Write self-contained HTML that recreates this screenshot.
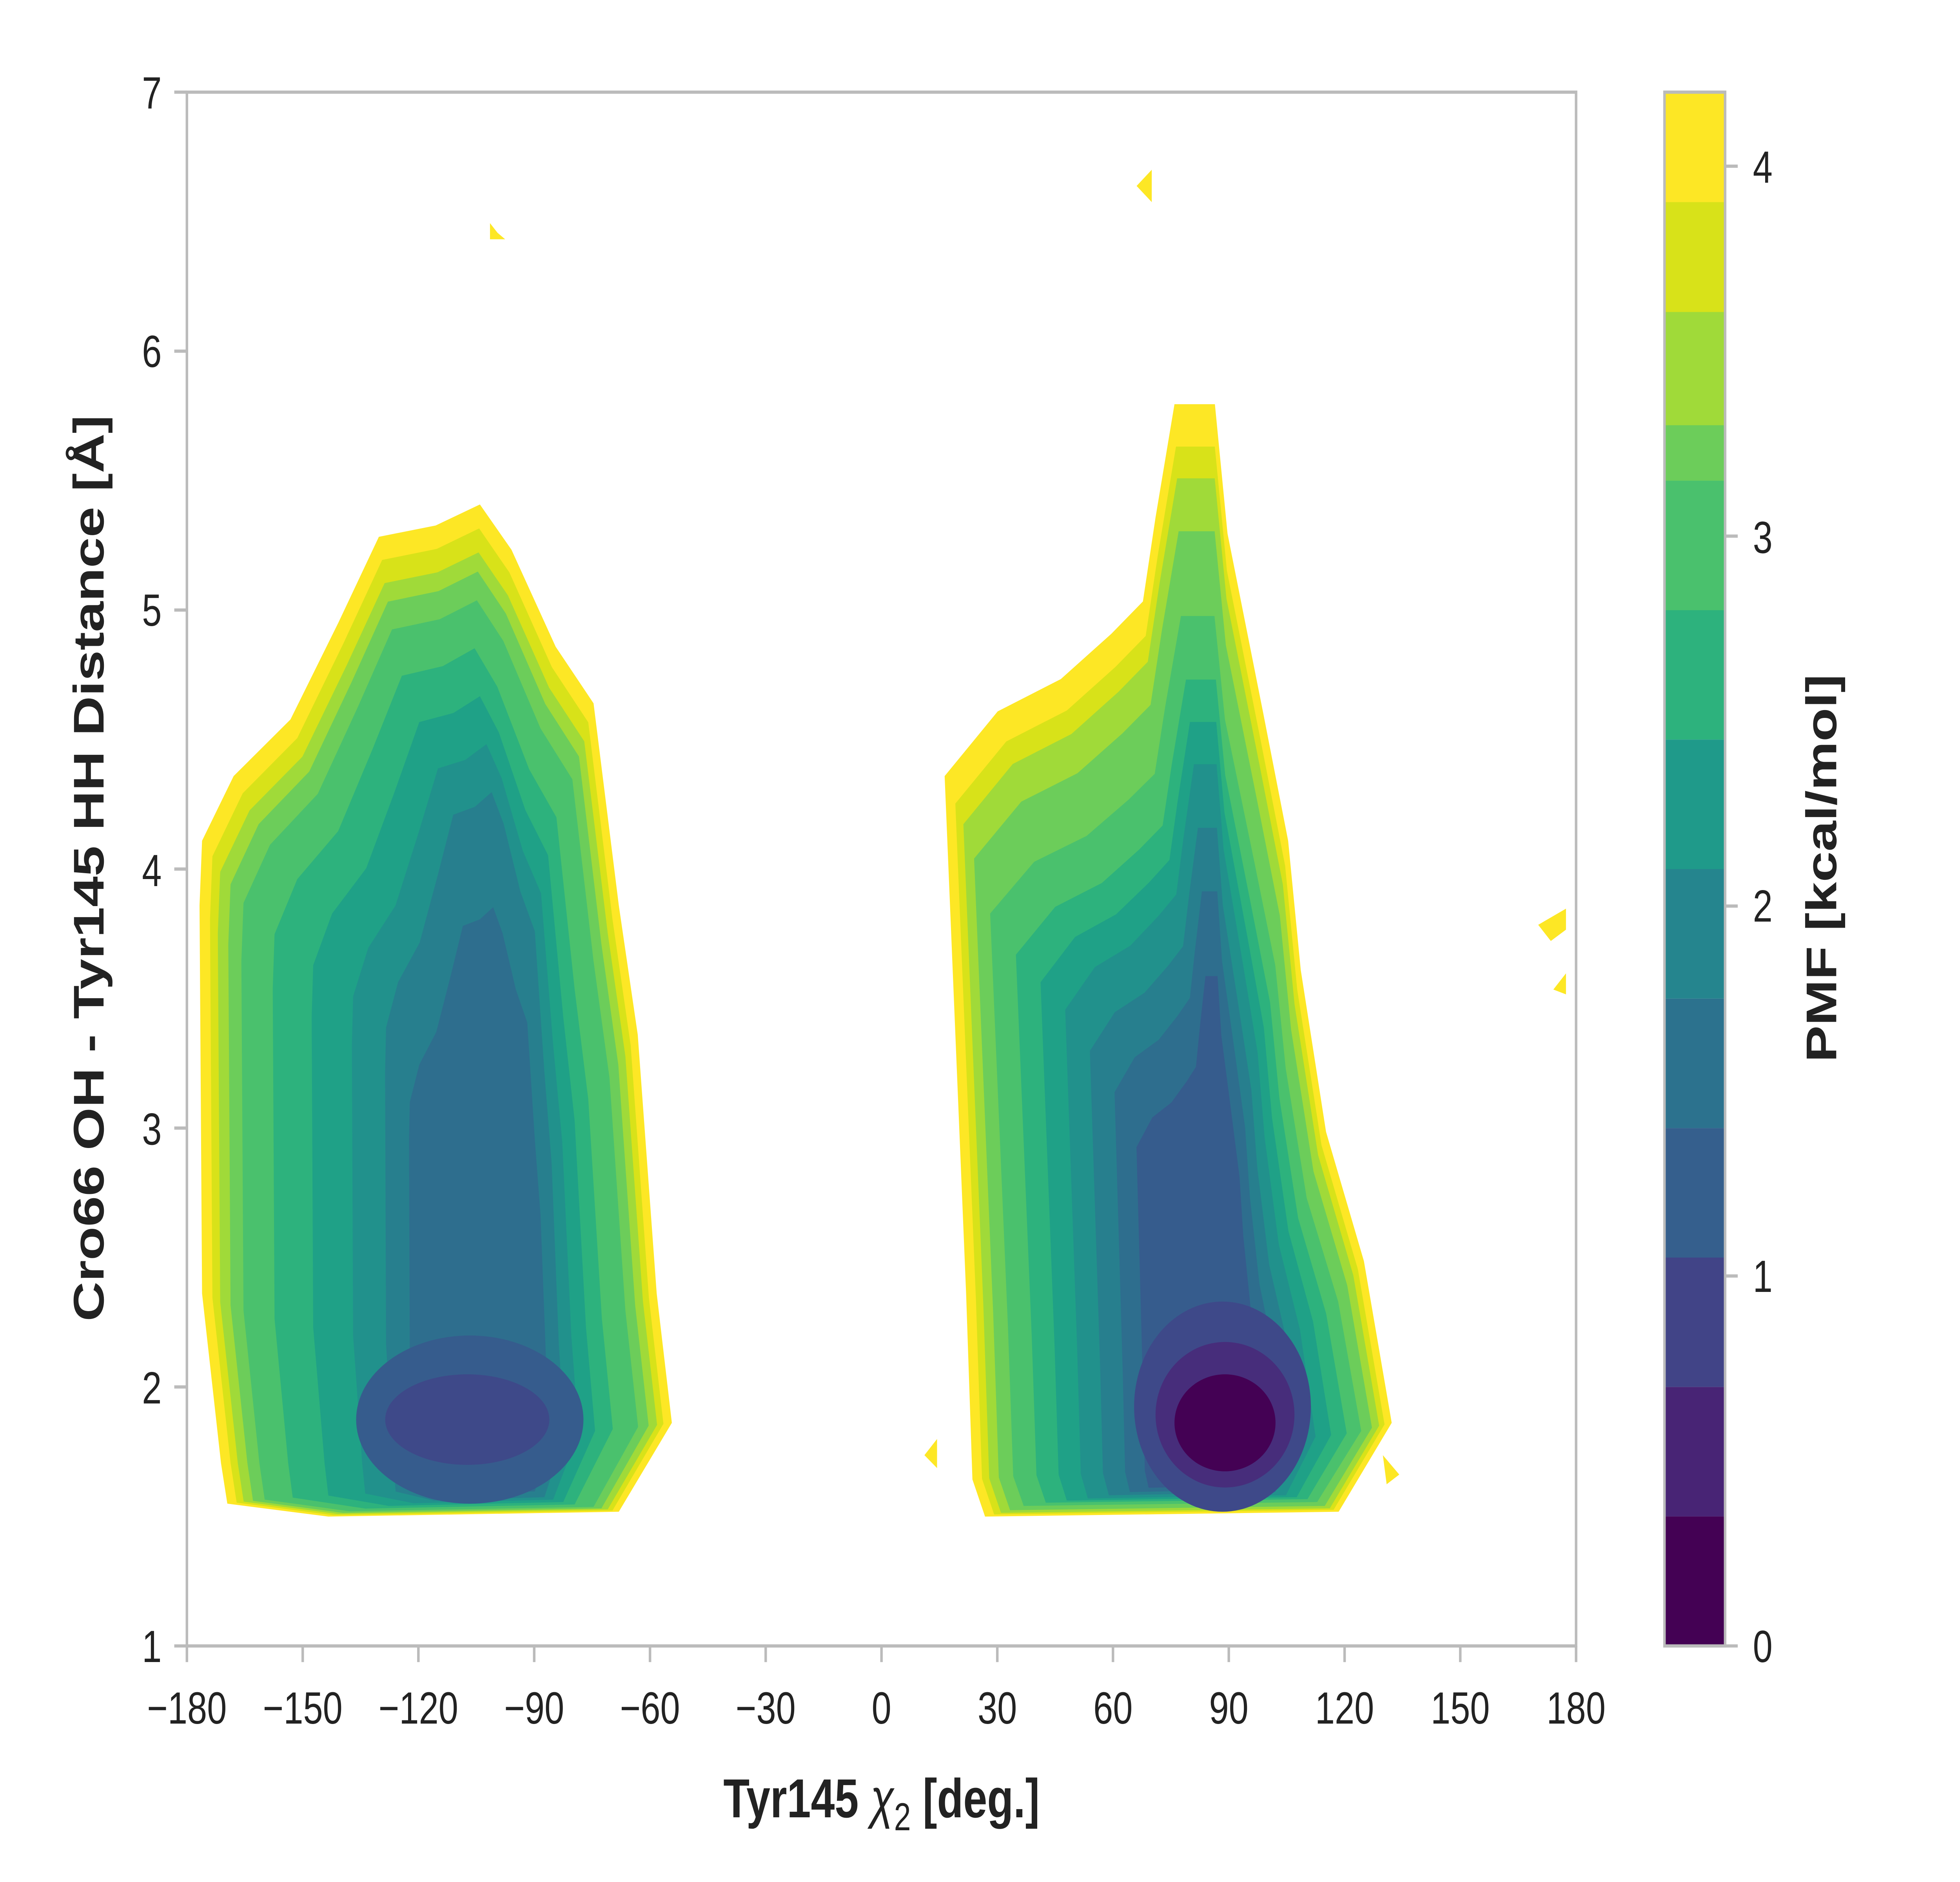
<!DOCTYPE html>
<html><head><meta charset="utf-8"><style>html,body{margin:0;padding:0;background:#fff;width:100%;height:100%;overflow:hidden}svg{display:block;position:absolute;left:0;top:0;width:100vw;height:100vh}</style></head><body>
<svg viewBox="0 0 1552 1164" preserveAspectRatio="none" xmlns="http://www.w3.org/2000/svg" font-family="Liberation Sans, sans-serif">
<rect width="1552" height="1164" fill="#fff"/>
<defs>
<clipPath id="pc"><rect x="148" y="57" width="1100" height="961"/></clipPath>
<path id="L" d="M175,905 L160,800 L158,560 L160,520 L185,480 L230,445 L268,385 L300,332 L345,325 L380,312 L405,340 L440,400 L470,435 L490,560 L505,640 L520,800 L532,880 L490,935 L260,938 L180,930 Z"/>
<path id="R" d="M770,915 L765,800 L748,480 L790,440 L840,420 L880,392 L905,372 L915,320 L930,250 L962,250 L972,330 L1000,440 L1020,520 L1030,600 L1050,700 L1080,780 L1102,880 L1060,935 L780,938 Z"/>
</defs>
<g clip-path="url(#pc)">
<g>
<use href="#L" fill="#fde725"/>
<use href="#L" fill="#d8e219" transform="translate(365,905) scale(0.96,0.975) translate(-365,-905)"/>
<use href="#L" fill="#a0da39" transform="translate(365,905) scale(0.93,0.95) translate(-365,-905)"/>
<use href="#L" fill="#6ccd5a" transform="translate(365,905) scale(0.89,0.93) translate(-365,-905)"/>
<use href="#L" fill="#4ac16d" transform="translate(365,905) scale(0.84,0.9) translate(-365,-905)"/>
<use href="#L" fill="#2db27d" transform="translate(365,905) scale(0.72,0.85) translate(-365,-905)"/>
<use href="#L" fill="#1fa187" transform="translate(380,905) scale(0.6,0.8) translate(-380,-905)"/>
<use href="#L" fill="#21918c" transform="translate(390,905) scale(0.48,0.75) translate(-390,-905)"/>
<use href="#L" fill="#277f8e" transform="translate(395,905) scale(0.38,0.7) translate(-395,-905)"/>
<use href="#L" fill="#2e6e8e" transform="translate(395,905) scale(0.3,0.58) translate(-395,-905)"/>
<ellipse cx="372" cy="878" rx="90" ry="52" fill="#365c8d"/>
<ellipse cx="370" cy="878" rx="65" ry="28" fill="#3e4989"/>
</g>
<g>
<use href="#R" fill="#fde725"/>
<use href="#R" fill="#d8e219" transform="translate(960,905) scale(0.96,0.96) translate(-960,-905)"/>
<use href="#R" fill="#a0da39" transform="translate(960,905) scale(0.93,0.93) translate(-960,-905)"/>
<use href="#R" fill="#6ccd5a" transform="translate(960,905) scale(0.89,0.88) translate(-960,-905)"/>
<use href="#R" fill="#4ac16d" transform="translate(960,905) scale(0.83,0.8) translate(-960,-905)"/>
<use href="#R" fill="#2db27d" transform="translate(965,905) scale(0.74,0.74) translate(-965,-905)"/>
<use href="#R" fill="#1fa187" transform="translate(965,905) scale(0.65,0.7) translate(-965,-905)"/>
<use href="#R" fill="#21918c" transform="translate(965,905) scale(0.56,0.66) translate(-965,-905)"/>
<use href="#R" fill="#277f8e" transform="translate(965,905) scale(0.47,0.6) translate(-965,-905)"/>
<use href="#R" fill="#2e6e8e" transform="translate(965,905) scale(0.38,0.54) translate(-965,-905)"/>
<use href="#R" fill="#365c8d" transform="translate(965,905) scale(0.3,0.46) translate(-965,-905)"/>
<ellipse cx="968" cy="870" rx="70" ry="65" fill="#3e4989"/>
<ellipse cx="970" cy="875" rx="55" ry="45" fill="#472d7b"/>
<ellipse cx="970" cy="880" rx="40" ry="30" fill="#440154"/>
</g>
<g fill="#fde725">
<polygon points="388,138 394,144 400,148 388,148"/>
<polygon points="900,115 912,105 912,125"/>
<polygon points="1218,572 1240,562 1240,575 1228,582"/>
<polygon points="1230,612 1240,602 1240,615"/>
<polygon points="732,900 742,890 742,908"/>
<polygon points="1095,900 1108,912 1098,918"/>
</g>
</g>
<rect x="148" y="57" width="1100" height="961" fill="none" stroke="#bbbbbb" stroke-width="2"/>
<g stroke="#bbbbbb" stroke-width="2">
<line x1="148" y1="1018" x2="148" y2="1028"/><line x1="239.7" y1="1018" x2="239.7" y2="1028"/><line x1="331.3" y1="1018" x2="331.3" y2="1028"/><line x1="423" y1="1018" x2="423" y2="1028"/><line x1="514.7" y1="1018" x2="514.7" y2="1028"/><line x1="606.3" y1="1018" x2="606.3" y2="1028"/><line x1="698" y1="1018" x2="698" y2="1028"/><line x1="789.7" y1="1018" x2="789.7" y2="1028"/><line x1="881.3" y1="1018" x2="881.3" y2="1028"/><line x1="973" y1="1018" x2="973" y2="1028"/><line x1="1064.7" y1="1018" x2="1064.7" y2="1028"/><line x1="1156.3" y1="1018" x2="1156.3" y2="1028"/><line x1="1248" y1="1018" x2="1248" y2="1028"/>
<line x1="138" y1="1018" x2="148" y2="1018"/><line x1="138" y1="857.8" x2="148" y2="857.8"/><line x1="138" y1="697.7" x2="148" y2="697.7"/><line x1="138" y1="537.5" x2="148" y2="537.5"/><line x1="138" y1="377.3" x2="148" y2="377.3"/><line x1="138" y1="217.2" x2="148" y2="217.2"/><line x1="138" y1="57" x2="148" y2="57"/>
</g>
<g font-size="28" fill="#222" text-anchor="middle">
<text x="148" y="1066">−180</text><text x="239.7" y="1066">−150</text><text x="331.3" y="1066">−120</text><text x="423" y="1066">−90</text><text x="514.7" y="1066">−60</text><text x="606.3" y="1066">−30</text><text x="698" y="1066">0</text><text x="789.7" y="1066">30</text><text x="881.3" y="1066">60</text><text x="973" y="1066">90</text><text x="1064.7" y="1066">120</text><text x="1156.3" y="1066">150</text><text x="1248" y="1066">180</text>
</g>
<g font-size="28" fill="#222" text-anchor="end">
<text x="128" y="1028">1</text><text x="128" y="868">2</text><text x="128" y="708">3</text><text x="128" y="548">4</text><text x="128" y="387">5</text><text x="128" y="227">6</text><text x="128" y="67">7</text>
</g>
<text x="698" y="1124" font-size="34" font-weight="bold" fill="#222" text-anchor="middle">Tyr145 <tspan font-style="italic" font-weight="normal">χ</tspan><tspan font-size="24" dy="8" font-weight="normal">2</tspan><tspan dy="-8"> [deg.]</tspan></text>
<text transform="translate(82,537) rotate(-90)" font-size="34" font-weight="bold" fill="#222" text-anchor="middle">Cro66 OH - Tyr145 HH Distance [Å]</text>
<g>
<rect x="1318" y="937.9" width="48" height="80.1" fill="#440154"/>
<rect x="1318" y="857.8" width="48" height="80.1" fill="#482475"/>
<rect x="1318" y="777.7" width="48" height="80.1" fill="#414487"/>
<rect x="1318" y="697.7" width="48" height="80.1" fill="#355f8d"/>
<rect x="1318" y="617.6" width="48" height="80.1" fill="#2c728e"/>
<rect x="1318" y="537.5" width="48" height="80.1" fill="#25858e"/>
<rect x="1318" y="457.4" width="48" height="80.1" fill="#1f9a8a"/>
<rect x="1318" y="377.3" width="48" height="80.1" fill="#2db27d"/>
<rect x="1318" y="297.3" width="48" height="80.1" fill="#4ac16d"/>
<rect x="1318" y="217.2" width="48" height="80.1" fill="#6ccd5a"/>
<rect x="1318" y="137.1" width="48" height="80.1" fill="#a0da39"/>
<rect x="1318" y="57" width="48" height="68" fill="#fde725"/>
<rect x="1318" y="125" width="48" height="68" fill="#d8e219"/>
<rect x="1318" y="193" width="48" height="70" fill="#a0da39"/>
<rect x="1318" y="57" width="48" height="961" fill="none" stroke="#bbbbbb" stroke-width="2"/>
</g>
<g stroke="#bbbbbb" stroke-width="2">
<line x1="1366" y1="1018" x2="1376" y2="1018"/><line x1="1366" y1="789.2" x2="1376" y2="789.2"/><line x1="1366" y1="560.4" x2="1376" y2="560.4"/><line x1="1366" y1="331.6" x2="1376" y2="331.6"/><line x1="1366" y1="102.8" x2="1376" y2="102.8"/>
</g>
<g font-size="28" fill="#222">
<text x="1388" y="1028">0</text><text x="1388" y="799">1</text><text x="1388" y="570">2</text><text x="1388" y="342">3</text><text x="1388" y="113">4</text>
</g>
<text transform="translate(1454,537) rotate(-90)" font-size="34" font-weight="bold" fill="#222" text-anchor="middle">PMF [kcal/mol]</text>
</svg>
</body></html>
